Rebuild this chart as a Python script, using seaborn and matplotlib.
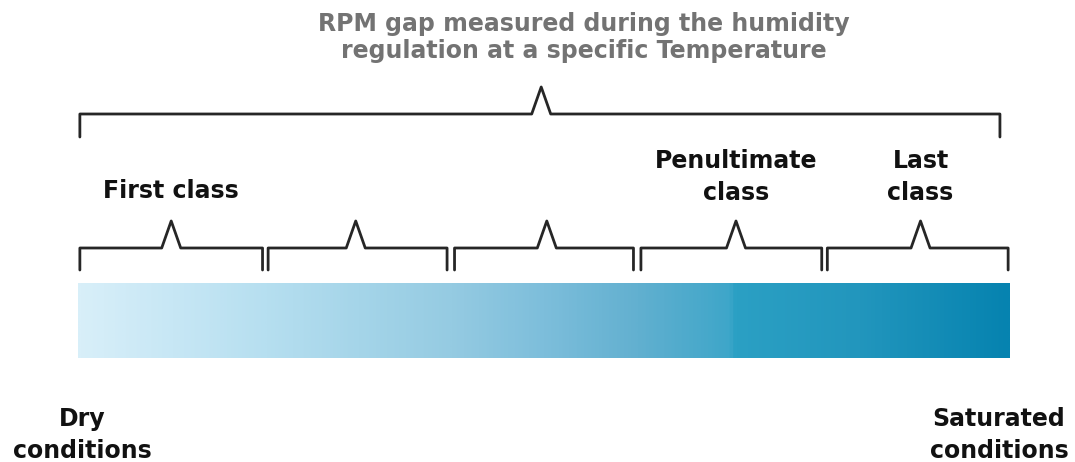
import numpy as np
import pandas as pd
import matplotlib
matplotlib.use("Agg")
import matplotlib.pyplot as plt
from matplotlib.colors import LinearSegmentedColormap
import seaborn as sns

# ---- data ----
title_lines = ["RPM gap measured during the humidity", "regulation at a specific Temperature"]
class_labels = ["First class", "", "", "Penultimate\nclass", "Last\nclass"]
class_starts = [0.01, 1.02, 2.02, 3.02, 4.02]
class_ends = [0.99, 1.98, 2.98, 3.99, 4.99]
class_peaks = [0.50, 1.49, 2.515, 3.53, 4.52]
end_labels = ["Dry\nconditions", "Saturated\nconditions"]
grad_pos = [0.0, 0.5, 1.0, 1.5, 2.0, 2.5, 3.0, 3.5, 3.53, 4.2, 5.0]
grad_col = ["#d8eff9", "#c7e7f5", "#b6dff0", "#a5d5e9", "#95cbe2", "#7dbedb",
            "#62b0d0", "#3ea6c9", "#2ba0c4", "#2296bd", "#0683b0"]

sns.set_theme(style="white")
plt.rcParams['font.family'] = ['DejaVu Sans']

W, H = 1075, 462
fig = plt.figure(figsize=(W / 100, H / 100), dpi=100)
ax = fig.add_axes([0, 0, 1, 1])
# scale units: 0 -> px 78, 5 -> px 1010
u = (1010 - 78) / 5.0
XL = (-78 / u, 5 + (W - 1010) / u)

# gradient bar
cmap = LinearSegmentedColormap.from_list("g", list(zip(np.array(grad_pos) / 5.0, grad_col)))
grad = np.linspace(0, 1, 1000)[None, :]
ax.imshow(grad, cmap=cmap, aspect="auto", extent=(0, 5, 358, 283), interpolation="bilinear")

# braces
rows = []
def brace(x0, x1, xm, ybase, yline, ypeak, hw, uid):
    pts = [(x0, ybase), (x0, yline), (xm - hw, yline), (xm, ypeak),
           (xm + hw, yline), (x1, yline), (x1, ybase)]
    for i, (x, y) in enumerate(pts):
        rows.append(dict(x=x, y=y, unit=uid, order=i))

for i, (s, e, p) in enumerate(zip(class_starts, class_ends, class_peaks)):
    brace(s, e, p, 270, 248, 221, 9.5 / u, i)
brace(0.01, 4.946, 2.485, 137, 114, 87, 9.5 / u, 99)
df = pd.DataFrame(rows)
sns.lineplot(data=df, x="x", y="y", units="unit", estimator=None, sort=False,
             color="#262626", lw=2.0, ax=ax, legend=False)
ax.set_xlim(*XL)
ax.set_ylim(H, 0)
ax.axis("off")

FS = 17
# title
for y, line in zip([24, 51], title_lines):
    ax.text((584 - 78) / u, y, line, ha="center", va="center",
            fontsize=FS, fontweight="bold", color="#737373")

# class labels
for p, lab in zip(class_peaks, class_labels):
    if not lab:
        continue
    n = lab.count("\n")
    y = 191 if n == 0 else 177
    ax.text(p, y, lab, ha="center", va="center", fontsize=FS,
            fontweight="bold", color="#111111", linespacing=1.45)

ax.text(4 / u, 435, end_labels[0], ha="center", va="center", fontsize=FS,
        fontweight="bold", color="#111111", linespacing=1.4)
ax.text(5 - 11 / u, 435, end_labels[1], ha="center", va="center", fontsize=FS,
        fontweight="bold", color="#111111", linespacing=1.4)

fig.savefig("out.png", dpi=100)
